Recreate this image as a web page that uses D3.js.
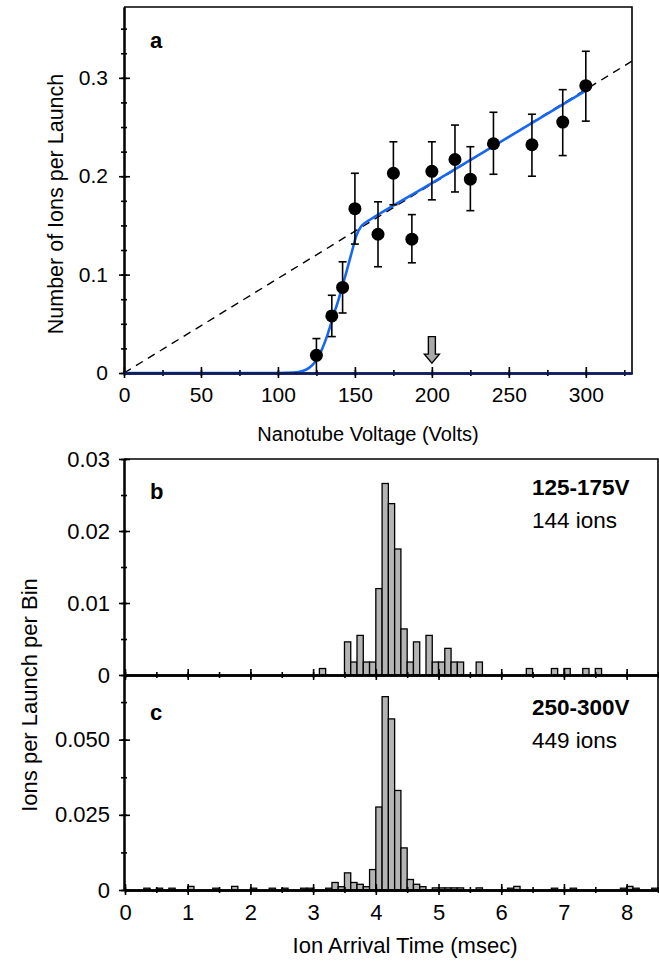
<!DOCTYPE html>
<html>
<head>
<meta charset="utf-8">
<script src="https://cdnjs.cloudflare.com/ajax/libs/d3/7.8.5/d3.min.js"></script>
<style>
body{margin:0;background:#fff}
text{font-family:"Liberation Sans",Arial,Helvetica,sans-serif;fill:#000}
</style>
</head>
<body>
<svg id="fig"></svg>
<script>
// panel a: ion yield vs nanotube voltage
var voltages = [125,135,142,150,165,175,187,200,215,225,240,265,285,300]
var ionsPerLaunch = [0.018,0.058,0.087,0.167,0.141,0.203,0.136,0.205,0.217,0.197,0.233,0.232,0.255,0.292]
var errLow = [0,0.037,0.061,0.131,0.108,0.171,0.112,0.176,0.184,0.165,0.202,0.200,0.221,0.256]
var errHigh = [0.035,0.079,0.113,0.203,0.174,0.235,0.161,0.235,0.252,0.230,0.265,0.263,0.288,0.327]
// fitted curve (blue) and linear extrapolation (dashed)
var fitV = [0,100,110,116,120,124,128,132,136,140,144,148,151,154,157,160,200,250,300]
var fitY = [0,0,0.0005,0.002,0.005,0.011,0.022,0.038,0.058,0.078,0.100,0.123,0.140,0.149,0.153,0.156,0.193,0.240,0.287]
var dashV = [0,330]
var dashY = [0,0.317]
var arrowV = 200, arrowTop = 0.037, arrowTip = 0.010
var voltTicks = [0,50,100,150,200,250,300]
var ionTicks = [0,0.1,0.2,0.3]

// panel b: 125-175V arrival-time histogram (bin start, msec)
var binsB = [3.1,3.5,3.6,3.7,3.8,3.9,4.0,4.1,4.2,4.3,4.4,4.5,4.6,4.8,4.9,5.0,5.1,5.2,5.3,5.6,6.4,6.8,7.0,7.3,7.5]
var valsB = [0.0009,0.0046,0.0018,0.0055,0.0018,0.0018,0.0120,0.0266,0.0238,0.0175,0.0064,0.0018,0.0046,0.0055,0.0018,0.0018,0.0037,0.0018,0.0018,0.0018,0.0009,0.0009,0.0009,0.0009,0.0009]
var ticksB = [0,0.01,0.02,0.03]

// panel c: 250-300V
var binsC = [0.3,0.5,0.7,1.0,1.4,1.7,2.0,2.3,2.5,2.8,2.9,3.2,3.3,3.4,3.5,3.6,3.7,3.8,3.9,4.0,4.1,4.2,4.3,4.4,4.5,4.6,4.7,4.9,5.0,5.1,5.2,5.3,5.6,6.1,6.2,6.8,7.1,7.9,8.0,8.1,8.4]
var valsC = [0.0006,0.0006,0.0006,0.0012,0.0006,0.0012,0.0006,0.0006,0.0006,0.0006,0.0006,0.0006,0.0025,0.0011,0.0057,0.0025,0.0019,0.0011,0.0068,0.0276,0.0643,0.0569,0.0331,0.0140,0.0035,0.0019,0.0011,0.0007,0.0007,0.0007,0.0007,0.0007,0.0007,0.0006,0.0012,0.0006,0.0006,0.0006,0.0012,0.0006,0.0006]
var ticksC = [0,0.025,0.05]
var timeTicks = [0,1,2,3,4,5,6,7,8]
var binWidth = 0.1

var W = 659, H = 965
var svg = d3.select("#fig").attr("width", W).attr("height", H)

var font = '"Liberation Sans",Arial,Helvetica,sans-serif'

// axis with ticks crossing the axis line
var drawAxis = function(g, make, scale, major, minor, fmt, pad, fs){
  g.append("g").call(make(scale).tickValues(minor).tickSizeInner(3).tickSizeOuter(0).tickFormat(""))
  g.append("g").call(make(scale).tickValues(minor).tickSizeInner(-3).tickSizeOuter(0).tickFormat(""))
  g.append("g").call(make(scale).tickValues(major).tickSizeInner(-6).tickSizeOuter(0).tickFormat(""))
  var lab = g.append("g").call(make(scale).tickValues(major).tickSizeInner(5).tickSizeOuter(0).tickPadding(pad).tickFormat(fmt))
  g.selectAll("path.domain, line").attr("stroke", "#000").attr("stroke-width", 1.6)
  g.selectAll("text").attr("font-family", font).attr("font-size", fs)
  return lab
}
var range = function(a, b, s){ return d3.range(a, b + s/2, s) }

// ---------- panel a ----------
var xA = d3.scaleLinear().domain([0,330]).range([124,632])
var yA = d3.scaleLinear().domain([0,0.372]).range([373,7])

var pa = svg.append("g")

// dashed extrapolation
pa.append("path")
  .datum(d3.zip(dashV, dashY))
  .attr("d", d3.line().x(function(d){return xA(d[0])}).y(function(d){return yA(d[1])}))
  .attr("fill", "none").attr("stroke", "#000").attr("stroke-width", 1.4)
  .attr("stroke-dasharray", "8,6")

// fit curve
pa.append("path")
  .datum(d3.zip(fitV, fitY))
  .attr("d", d3.line().curve(d3.curveMonotoneX).x(function(d){return xA(d[0])}).y(function(d){return yA(d[1])}))
  .attr("fill", "none").attr("stroke", "#1767f5").attr("stroke-width", 2.6)

// frame
pa.append("path")
  .attr("d", "M" + xA(0) + "," + yA(0.372) + "H" + xA(330) + "V" + yA(0))
  .attr("fill", "none").attr("stroke", "#000").attr("stroke-width", 1.6)

drawAxis(pa.append("g").attr("transform", "translate(" + xA(0) + ",0)"), d3.axisLeft, yA,
  ionTicks, range(0,0.35,0.025), function(d){return d === 0 ? "0" : d3.format(".1f")(d)}, 11, 21)
var axA = pa.append("g").attr("transform", "translate(0," + yA(0) + ")")
drawAxis(axA, d3.axisBottom, xA, voltTicks, range(0,325,25), d3.format("d"), 9, 21)
axA.selectAll("path.domain").attr("stroke", "#101c5e").attr("stroke-width", 2.2)

// error bars
var pts = voltages.map(function(v,i){ return {v:v, y:ionsPerLaunch[i], lo:errLow[i], hi:errHigh[i]} })
var eb = pa.selectAll(".eb").data(pts).enter().append("g").attr("class", "eb")
eb.append("line")
  .attr("x1", function(d){return xA(d.v)}).attr("x2", function(d){return xA(d.v)})
  .attr("y1", function(d){return yA(d.lo)}).attr("y2", function(d){return yA(d.hi)})
  .attr("stroke", "#000").attr("stroke-width", 1.6)
eb.append("line")
  .attr("x1", function(d){return xA(d.v)-4}).attr("x2", function(d){return xA(d.v)+4})
  .attr("y1", function(d){return yA(d.hi)}).attr("y2", function(d){return yA(d.hi)})
  .attr("stroke", "#000").attr("stroke-width", 1.6)
eb.filter(function(d){return d.lo > 0}).append("line")
  .attr("x1", function(d){return xA(d.v)-4}).attr("x2", function(d){return xA(d.v)+4})
  .attr("y1", function(d){return yA(d.lo)}).attr("y2", function(d){return yA(d.lo)})
  .attr("stroke", "#000").attr("stroke-width", 1.6)
pa.selectAll("circle").data(pts).enter().append("circle")
  .attr("cx", function(d){return xA(d.v)}).attr("cy", function(d){return yA(d.y)})
  .attr("r", 6.5).attr("fill", "#000")

// gray arrow marking 200 V
var ax = xA(arrowV), at = yA(arrowTop), ap = yA(arrowTip), ah = ap - 9
pa.append("path")
  .attr("d", "M" + (ax-3.5) + "," + at + "H" + (ax+3.5) + "V" + ah + "H" + (ax+7.5) +
    "L" + ax + "," + ap + "L" + (ax-7.5) + "," + ah + "H" + (ax-3.5) + "Z")
  .attr("fill", "#a9a9a9").attr("stroke", "#000").attr("stroke-width", 1.4)

pa.append("text").attr("x", 150).attr("y", 48).attr("font-size", 22).attr("font-weight", "bold").text("a")
pa.append("text").attr("x", 368).attr("y", 441).attr("text-anchor", "middle").attr("font-size", 20)
  .text("Nanotube Voltage (Volts)")
pa.append("text").attr("transform", "translate(63,204) rotate(-90)").attr("text-anchor", "middle")
  .attr("font-size", 21.5).text("Number of Ions per Launch")

// ---------- panels b, c ----------
var xT = d3.scaleLinear().domain([0,8.5]).range([125,658])
var yB = d3.scaleLinear().domain([0,0.03]).range([675,459])
var yC = d3.scaleLinear().domain([0,0.0715]).range([890,675])

var drawHist = function(bins, vals, y){
  var g = svg.append("g")
  g.selectAll("rect").data(d3.zip(bins, vals)).enter().append("rect")
    .attr("x", function(d){return xT(d[0])})
    .attr("width", function(d){return xT(d[0] + binWidth) - xT(d[0])})
    .attr("y", function(d){return y(d[1])})
    .attr("height", function(d){return y(0) - y(d[1])})
    .attr("fill", "#b4b4b4").attr("stroke", "#000").attr("stroke-width", 1.3)
  return g
}
drawHist(binsB, valsB, yB)
drawHist(binsC, valsC, yC)

// frame around b and c
svg.append("path")
  .attr("d", "M124," + yB(0.03) + "H" + xT(8.5) + "V" + yC(0))
  .attr("fill", "none").attr("stroke", "#000").attr("stroke-width", 1.6)

drawAxis(svg.append("g").attr("transform", "translate(124,0)"), d3.axisLeft, yB,
  ticksB, range(0,0.03,0.005), function(d){return d === 0 ? "0" : d3.format(".2f")(d)}, 9, 22)
drawAxis(svg.append("g").attr("transform", "translate(124,0)"), d3.axisLeft, yC,
  ticksC, range(0,0.0625,0.0125), function(d){return d === 0 ? "0" : d3.format(".3f")(d)}, 9, 22)
var axB = svg.append("g").attr("transform", "translate(0," + yB(0) + ")")
drawAxis(axB, d3.axisBottom, xT, timeTicks, range(0,8.5,0.5), "", 10, 22)
axB.selectAll("path.domain").attr("stroke-width", 2.2)
var axC = svg.append("g").attr("transform", "translate(0," + yC(0) + ")")
drawAxis(axC, d3.axisBottom, xT, timeTicks, range(0,8.5,0.5), d3.format("d"), 9, 22)
axC.selectAll("path.domain").attr("stroke-width", 2)

svg.append("text").attr("x", 150).attr("y", 499).attr("font-size", 22).attr("font-weight", "bold").text("b")
svg.append("text").attr("x", 150).attr("y", 720).attr("font-size", 22).attr("font-weight", "bold").text("c")
svg.append("text").attr("x", 532).attr("y", 495).attr("font-size", 22.5).attr("font-weight", "bold").text("125-175V")
svg.append("text").attr("x", 532).attr("y", 528).attr("font-size", 22.5).text("144 ions")
svg.append("text").attr("x", 532).attr("y", 715).attr("font-size", 22.5).attr("font-weight", "bold").text("250-300V")
svg.append("text").attr("x", 532).attr("y", 748).attr("font-size", 22.5).text("449 ions")

svg.append("text").attr("x", 405).attr("y", 953).attr("text-anchor", "middle").attr("font-size", 22)
  .text("Ion Arrival Time (msec)")
svg.append("text").attr("transform", "translate(37,695) rotate(-90)").attr("text-anchor", "middle")
  .attr("font-size", 22).text("Ions per Launch per Bin")
</script>
</body>
</html>
